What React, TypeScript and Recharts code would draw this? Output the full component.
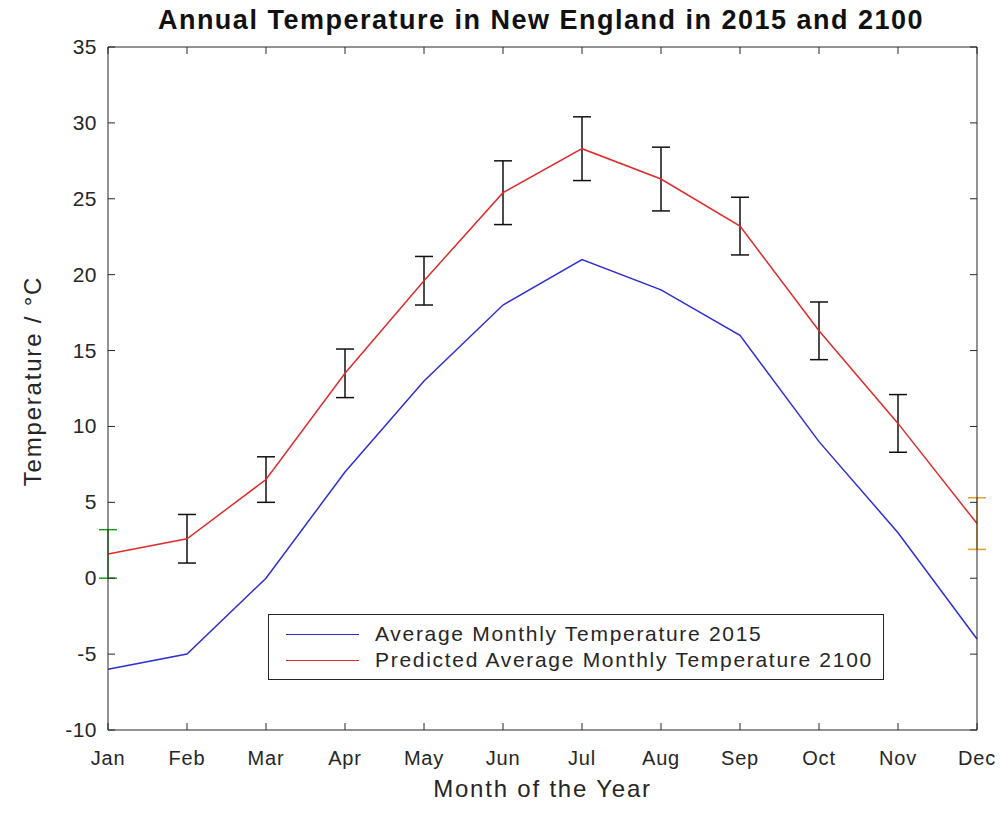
import { LineChart, Line, XAxis, YAxis, ErrorBar, Legend } from "recharts";

const months = ["Jan", "Feb", "Mar", "Apr", "May", "Jun", "Jul", "Aug", "Sep", "Oct", "Nov", "Dec"];
const avg2015 = [-6, -5, 0, 7, 13, 18, 21, 19, 16, 9, 3, -4];
const pred2100 = [1.6, 2.6, 6.5, 13.5, 19.6, 25.4, 28.3, 26.3, 23.2, 16.3, 10.2, 3.6];
// error bars: black for most months, green for Jan, orange for Dec
const errMid = [null, 1.6, 1.5, 1.6, 1.6, 2.1, 2.1, 2.1, 1.9, 1.9, 1.9, null];
const errJan = [1.6, null, null, null, null, null, null, null, null, null, null, null];
const errDec = [null, null, null, null, null, null, null, null, null, null, null, 1.7];
const yTicks = [-10, -5, 0, 5, 10, 15, 20, 25, 30, 35];

const data = months.map((m, i) => ({
  month: m,
  avg2015: avg2015[i],
  pred2100: pred2100[i],
  errMid: errMid[i],
  errJan: errJan[i],
  errDec: errDec[i],
}));

const font = '"Liberation Sans", Arial, sans-serif';
const axisColor = "#262626";
const blue = "#2e2ed6";
const red = "#e02b2b";
const TICK = 7;
const X_MARGIN = 22;
const Y_MARGIN = 11;

// MATLAB style: tick marks point into the plot, so they are drawn with the labels
const BottomTick = (props: any) => {
  const { x, y, payload } = props;
  const axisY = y - X_MARGIN;
  return (
    <g>
      <line x1={x} x2={x} y1={axisY} y2={axisY - TICK} stroke={axisColor} />
      <text x={x} y={y + 13} textAnchor="middle" fontSize={20} fill="#262626" fontFamily={font} letterSpacing={0.8}>
        {payload.value}
      </text>
    </g>
  );
};

const LeftTick = (props: any) => {
  const { x, y, payload } = props;
  const axisX = x + Y_MARGIN;
  return (
    <g>
      <line x1={axisX} x2={axisX + TICK} y1={y} y2={y} stroke={axisColor} />
      <text x={x} y={y + 7} textAnchor="end" fontSize={21} fill="#262626" fontFamily={font} letterSpacing={0.5}>
        {payload.value}
      </text>
    </g>
  );
};

const TopTick = (props: any) => {
  const { x, y } = props;
  return <line x1={x} x2={x} y1={y} y2={y + TICK} stroke={axisColor} />;
};

const RightTick = (props: any) => {
  const { x, y } = props;
  return <line x1={x} x2={x - TICK} y1={y} y2={y} stroke={axisColor} />;
};

const legendColors: Record<string, string> = { avg2015: blue, pred2100: red };

const renderLegend = (props: any) => {
  const items = (props.payload || []).filter((p: any) => legendColors[p.dataKey] && p.type !== "none");
  return (
    <div
      style={{
        border: "1px solid #262626",
        background: "#fff",
        padding: "6px 10px 6px 17px",
        fontFamily: font,
        fontSize: 21,
        letterSpacing: 1.7,
        color: "#262626",
        whiteSpace: "nowrap",
      }}
    >
      {items.map((e: any) => (
        <div key={e.dataKey} style={{ display: "flex", alignItems: "center", height: 26 }}>
          <span style={{ width: 73, borderTop: `1.5px solid ${legendColors[e.dataKey]}`, marginRight: 16 }} />
          <span>{e.value}</span>
        </div>
      ))}
    </div>
  );
};

export default function App() {
  return (
    <div style={{ position: "relative", width: 988, height: 800, background: "#fff" }}>
      <div
        style={{
          position: "absolute",
          left: 133,
          width: 800,
          top: -3,
          textAlign: "center",
          fontFamily: font,
          fontWeight: "bold",
          fontSize: 27,
          letterSpacing: 1.5,
          whiteSpace: "nowrap",
          color: "#111",
        }}
      >
        Annual Temperature in New England in 2015 and 2100
      </div>
      <div
        style={{
          position: "absolute",
          left: 25,
          top: 373,
          transform: "translate(-50%, -50%) rotate(-90deg)",
          whiteSpace: "nowrap",
          fontFamily: font,
          fontSize: 24,
          letterSpacing: 1.8,
          color: "#262626",
        }}
      >
        Temperature / °C
      </div>
      <LineChart
        width={988}
        height={800}
        data={data}
        margin={{ top: 38, right: 18, left: 39, bottom: 0 }}
      >
        <XAxis
          dataKey="month"
          padding={{ left: 0, right: 0 }}
          height={78}
          tickSize={0}
          tickMargin={X_MARGIN}
          tickLine={false}
          tick={<BottomTick />}
          stroke={axisColor}
          interval={0}
          label={{
            value: "Month of the Year",
            position: "insideBottom",
            offset: 11,
            style: { fontSize: 24, fill: "#262626", fontFamily: font, letterSpacing: 1.8 },
          }}
        />
        <XAxis
          xAxisId="top"
          dataKey="month"
          orientation="top"
          padding={{ left: 0, right: 0 }}
          height={1}
          tickSize={0}
          tickMargin={0}
          tickLine={false}
          tick={<TopTick />}
          stroke={axisColor}
          interval={0}
        />
        <YAxis
          type="number"
          domain={[-10, 35]}
          ticks={yTicks}
          width={61}
          tickSize={0}
          tickMargin={Y_MARGIN}
          tickLine={false}
          tick={<LeftTick />}
          stroke={axisColor}
          interval={0}
        />
        <YAxis
          yAxisId="right"
          orientation="right"
          type="number"
          domain={[-10, 35]}
          ticks={yTicks}
          width={1}
          tickSize={0}
          tickMargin={0}
          tickLine={false}
          tick={<RightTick />}
          stroke={axisColor}
          interval={0}
        />
        <Line
          xAxisId="top"
          yAxisId="right"
          dataKey="avg2015"
          stroke="none"
          dot={false}
          legendType="none"
          activeDot={false}
          isAnimationActive={false}
        />
        <Line
          dataKey="avg2015"
          name="Average Monthly Temperature 2015"
          stroke={blue}
          strokeWidth={1.5}
          dot={false}
          isAnimationActive={false}
        />
        <Line
          dataKey="pred2100"
          name="Predicted Average Monthly Temperature 2100"
          stroke={red}
          strokeWidth={1.5}
          dot={false}
          isAnimationActive={false}
        >
          <ErrorBar dataKey="errMid" width={9} stroke="#111" strokeWidth={1.5} isAnimationActive={false} />
          <ErrorBar dataKey="errJan" width={9} stroke="#1f9a1f" strokeWidth={1.5} isAnimationActive={false} />
          <ErrorBar dataKey="errDec" width={9} stroke="#e8a030" strokeWidth={1.5} isAnimationActive={false} />
        </Line>
        <Legend
          layout="vertical"
          align="center"
          verticalAlign="middle"
          content={renderLegend}
          wrapperStyle={{ left: 260, top: 606, width: "auto", height: "auto" }}
        />
      </LineChart>
    </div>
  );
}
